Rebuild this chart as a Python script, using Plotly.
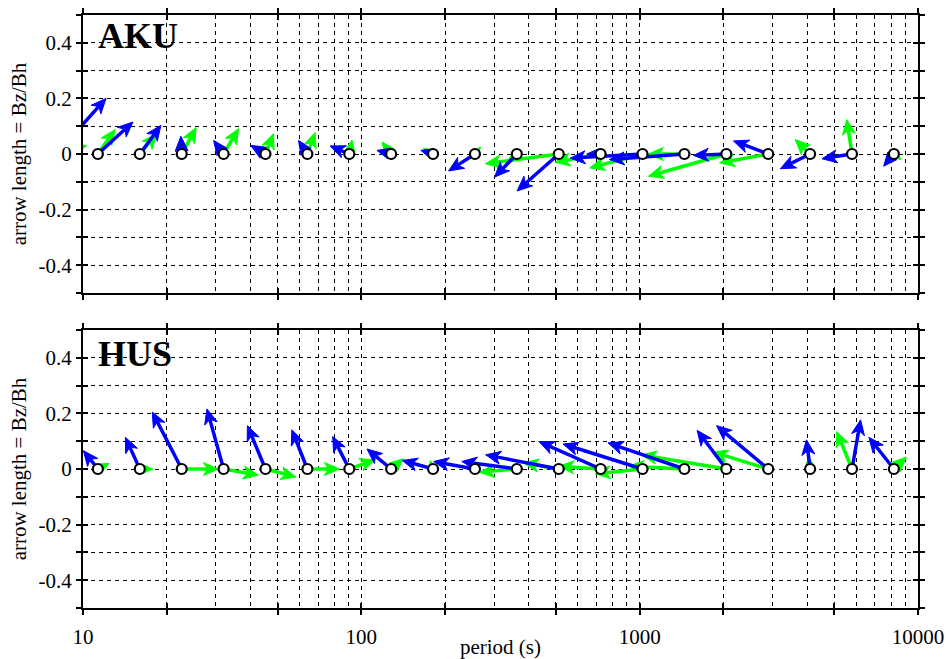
import numpy as np
import plotly.graph_objects as go

# ---------------- data ----------------
periods_aku = [8, 11.31, 16, 22.63, 32, 45.25, 64, 90.51, 128, 181.02, 256, 362.04,
               512, 724.08, 1024, 1448.15, 2048, 2896.31, 4096, 5792.62, 8192]
aku_blue_x = [0.18, 0.126, 0.076, -0.003, -0.036, -0.053, -0.032, -0.069, -0.051, -0.044, -0.095,
              -0.08, -0.15, -0.05, -0.26, -0.27, -0.118, -0.125, -0.107, -0.108, -0.037]
aku_blue_y = [0.20, 0.115, 0.103, 0.064, 0.049, 0.031, 0.049, 0.029, 0.013, 0.013, -0.061,
              -0.083, -0.133, 0.0, -0.015, -0.02, -0.005, 0.047, -0.053, -0.017, -0.044]
aku_green_x = [0.11, 0.062, 0.061, 0.052, 0.054, 0.029, 0.028, 0.01, -0.033, -0.035, 0.02,
               -0.03, -0.264, -0.164, -0.19, -0.13, -0.28, -0.175, -0.054, -0.019, 0.025]
aku_green_y = [0.03, 0.088, 0.073, 0.095, 0.091, 0.073, 0.077, 0.05, 0.043, 0.02, 0.025,
               -0.02, -0.035, -0.03, -0.05, 0.0, -0.08, -0.032, 0.052, 0.124, -0.02]

periods_hus = [11.31, 16, 22.63, 32, 45.25, 64, 90.51, 128, 181.02, 256, 362.04,
               512, 724.08, 1024, 1448.15, 2048, 2896.31, 4096, 5792.62, 8192]
hus_blue_x = [-0.052, -0.052, -0.106, -0.06, -0.065, -0.056, -0.06, -0.087, -0.111, -0.149,
              -0.198, -0.263, -0.222, -0.286, -0.275, -0.105, -0.186, -0.013, 0.031, -0.09]
hus_blue_y = [0.066, 0.114, 0.205, 0.216, 0.156, 0.141, 0.117, 0.072, 0.031, 0.027,
              0.027, 0.051, 0.099, 0.09, 0.094, 0.139, 0.156, 0.105, 0.177, 0.114]
hus_green_x = [0.04, 0.047, 0.132, 0.125, 0.11, 0.115, 0.093, 0.044, -0.01, -0.03,
               -0.135, -0.127, -0.15, -0.17, -0.2, -0.305, -0.2, -0.005, -0.055, 0.045]
hus_green_y = [0.02, 0.0, 0.0, -0.022, -0.029, 0.0, 0.033, 0.037, 0.03, 0.02,
               -0.012, 0.022, 0.01, -0.017, 0.01, 0.05, 0.061, 0.045, 0.135, 0.043]

stations = ["AKU", "HUS"]
y_tick_vals = [-0.5, -0.4, -0.3, -0.2, -0.1, 0, 0.1, 0.2, 0.3, 0.4, 0.5]
y_tick_text = ["", "-0.4", "", "-0.2", "", "0", "", "0.2", "", "0.4", ""]
x_tick_vals = [10, 20, 50, 100, 200, 500, 1000, 2000, 5000, 10000]
x_tick_text = ["10", "", "", "100", "", "", "1000", "", "", "10000"]
x_minor_vals = [m * d for d in (10, 100, 1000) for m in (3, 4, 6, 7, 8, 9)]

# ---------------- layout geometry ----------------
W, H = 946, 659
ML, MR, MT, MB = 83, 28, 15, 51
GAP = 37
plot_w = W - ML - MR
plot_h = H - MT - MB
panel_h = (plot_h - GAP) / 2
frac = panel_h / plot_h
XR = [1, 4]
YR = [-0.5, 0.5]
sx = plot_w / (XR[1] - XR[0])   # px per decade
sy = panel_h / (YR[1] - YR[0])  # px per unit

FONT = "Liberation Serif"
BLUE = "#0000ff"
GREEN = "#00ff00"
HEAD_L, HEAD_W = 15.0, 6.5


def arrows(periods, ux, vy):
    sxs, sys_, hxs, hys = [], [], [], []
    for T, u, v in zip(periods, ux, vy):
        X0, Y0 = np.log10(T) * sx, 0.0
        dX, dY = u * sy, v * sy
        Ln = np.hypot(dX, dY)
        if Ln < 1e-6:
            continue
        d = np.array([dX, dY]) / Ln
        n = np.array([-d[1], d[0]])
        hl = min(HEAD_L, 0.85 * Ln)
        hw = HEAD_W * hl / HEAD_L
        tip = np.array([X0 + dX, Y0 + dY])
        back = tip - d * hl
        notch = tip - d * hl * 0.72
        w1 = back + n * hw
        w2 = back - n * hw
        for P in (np.array([X0, Y0]), notch):
            sxs.append(10 ** (P[0] / sx)); sys_.append(P[1] / sy)
        sxs.append(None); sys_.append(None)
        for P in (tip, w1, notch, w2, tip):
            hxs.append(10 ** (P[0] / sx)); hys.append(P[1] / sy)
        hxs.append(None); hys.append(None)
    return sxs, sys_, hxs, hys


fig = go.Figure()
datasets = [
    (periods_aku, aku_blue_x, aku_blue_y, aku_green_x, aku_green_y, "x", "y"),
    (periods_hus, hus_blue_x, hus_blue_y, hus_green_x, hus_green_y, "x2", "y2"),
]
for per, bx, by, gx, gy, xa, ya in datasets:
    for ux, vy, col in ((gx, gy, GREEN), (bx, by, BLUE)):
        s_x, s_y, h_x, h_y = arrows(per, ux, vy)
        fig.add_trace(go.Scatter(x=s_x, y=s_y, mode="lines", xaxis=xa, yaxis=ya,
                                 line=dict(color=col, width=3.5), hoverinfo="skip",
                                 showlegend=False))
        fig.add_trace(go.Scatter(x=h_x, y=h_y, mode="lines", fill="toself",
                                 fillcolor=col, xaxis=xa, yaxis=ya,
                                 line=dict(color=col, width=1), hoverinfo="skip",
                                 showlegend=False))
    fig.add_trace(go.Scatter(x=per, y=[0] * len(per), mode="markers", xaxis=xa, yaxis=ya,
                             marker=dict(size=10, color="white",
                                         line=dict(color="black", width=2.2)),
                             hoverinfo="skip", showlegend=False))

# dummy traces for overlay (inside-tick) axes
for xa, ya in (("x3", "y3"), ("x4", "y4")):
    fig.add_trace(go.Scatter(x=[100], y=[0], xaxis=xa, yaxis=ya, mode="markers",
                             marker=dict(opacity=0), hoverinfo="skip", showlegend=False))

tickfont = dict(family=FONT, size=21, color="black")
grid = dict(showgrid=True, gridcolor="black", gridwidth=1, griddash="4px,4px")


def xaxis(labels, title=None, **kw):
    d = dict(type="log", range=XR, tickmode="array", tickvals=x_tick_vals,
             ticktext=x_tick_text if labels else [""] * len(x_tick_vals),
             ticks="outside", ticklen=5, tickwidth=2, tickcolor="black",
             showline=True, linewidth=2, linecolor="black", mirror="ticks",
             tickfont=tickfont, zeroline=False, automargin=False,
             ticklabelstandoff=4,
             minor=dict(tickmode="array", tickvals=x_minor_vals, ticks="",
                        showgrid=True, gridcolor="black", gridwidth=1, griddash="4px,4px"),
             **grid)
    if title:
        d["title"] = dict(text=title, font=dict(family=FONT, size=21, color="black"),
                          standoff=7)
    d.update(kw)
    return d


def yaxis(domain, **kw):
    d = dict(range=YR, domain=domain, tickmode="array", tickvals=y_tick_vals,
             ticktext=y_tick_text, ticks="outside", ticklen=5, tickwidth=2,
             tickcolor="black", showline=True, linewidth=2, linecolor="black",
             mirror="ticks", tickfont=tickfont, zeroline=False, automargin=False,
             title=dict(text="arrow length = Bz/Bh",
                        font=dict(family=FONT, size=21, color="black"), standoff=6),
             **grid)
    d.update(kw)
    return d


def inside_x(over, anchor):
    return dict(type="log", range=XR, overlaying=over, anchor=anchor, tickmode="array",
                tickvals=x_tick_vals, showticklabels=False, ticks="inside", ticklen=5,
                tickwidth=2, tickcolor="black", showline=True, linewidth=2,
                linecolor="black", mirror="ticks", showgrid=False, zeroline=False,
                automargin=False)


def inside_y(over, anchor):
    return dict(range=YR, overlaying=over, anchor=anchor, tickmode="array",
                tickvals=y_tick_vals, showticklabels=False, ticks="inside", ticklen=5,
                tickwidth=2, tickcolor="black", showline=True, linewidth=2,
                linecolor="black", mirror="ticks", showgrid=False, zeroline=False,
                automargin=False)


fig.update_layout(
    width=W, height=H,
    margin=dict(l=ML, r=MR, t=MT, b=MB, pad=0, autoexpand=False),
    paper_bgcolor="white", plot_bgcolor="white",
    xaxis=xaxis(False, anchor="y", domain=[0, 1]),
    yaxis=yaxis([1 - frac, 1], anchor="x"),
    xaxis2=xaxis(True, title="period (s)", anchor="y2", domain=[0, 1]),
    yaxis2=yaxis([0, frac], anchor="x2"),
    xaxis3=inside_x("x", "y3"),
    yaxis3=inside_y("y", "x3"),
    xaxis4=inside_x("x2", "y4"),
    yaxis4=inside_y("y2", "x4"),
    showlegend=False,
)

for i, name in enumerate(stations):
    xr = "x domain" if i == 0 else "x2 domain"
    yr = "y domain" if i == 0 else "y2 domain"
    fig.add_annotation(text="<b>%s</b>" % name, xref=xr, yref=yr, x=0.016,
                       y=0.925 if i == 0 else 0.915,
                       xanchor="left", yanchor="middle", showarrow=False,
                       font=dict(family=FONT, size=36, color="black"))

fig.write_html("out.html")
